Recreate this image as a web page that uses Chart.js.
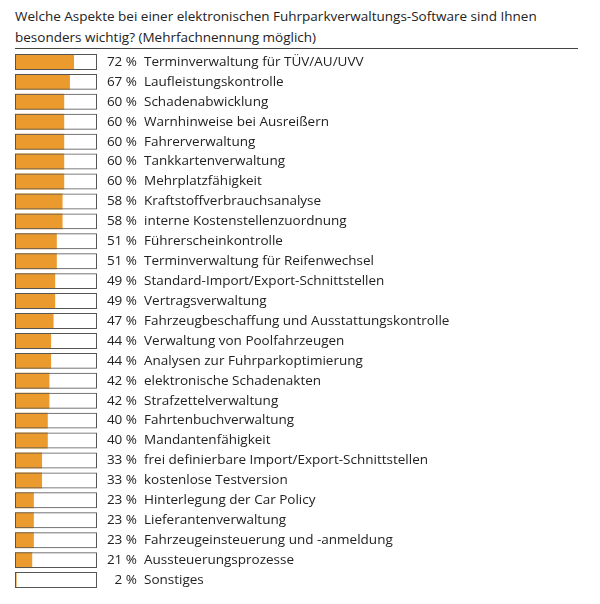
<!DOCTYPE html>
<html>
<head>
<meta charset="utf-8">
<script src="https://cdn.jsdelivr.net/npm/chart.js@4"></script>
<style>
  html, body { margin: 0; padding: 0; background: #fff; }
  #wrap { position: relative; width: 600px; height: 604px; }
  #titel {
    position: absolute; left: 15px; top: 6px; width: 563px;
    font-family: "Open Sans", sans-serif; font-size: 13.5px; line-height: 21px;
    color: #222; border-bottom: 1px solid #444; padding-bottom: 0px;
  }
  canvas { position: absolute; left: 0; top: 0; }
</style>
</head>
<body>
<div id="wrap">
  <div id="titel">Welche Aspekte bei einer elektronischen Fuhrparkverwaltungs-Software sind Ihnen besonders wichtig? (Mehrfachnennung möglich)</div>
  <canvas id="chart" width="600" height="604"></canvas>
</div>
<script>
const aspekte = [
  'Terminverwaltung für TÜV/AU/UVV',
  'Laufleistungskontrolle',
  'Schadenabwicklung',
  'Warnhinweise bei Ausreißern',
  'Fahrerverwaltung',
  'Tankkartenverwaltung',
  'Mehrplatzfähigkeit',
  'Kraftstoffverbrauchsanalyse',
  'interne Kostenstellenzuordnung',
  'Führerscheinkontrolle',
  'Terminverwaltung für Reifenwechsel',
  'Standard-Import/Export-Schnittstellen',
  'Vertragsverwaltung',
  'Fahrzeugbeschaffung und Ausstattungskontrolle',
  'Verwaltung von Poolfahrzeugen',
  'Analysen zur Fuhrparkoptimierung',
  'elektronische Schadenakten',
  'Strafzettelverwaltung',
  'Fahrtenbuchverwaltung',
  'Mandantenfähigkeit',
  'frei definierbare Import/Export-Schnittstellen',
  'kostenlose Testversion',
  'Hinterlegung der Car Policy',
  'Lieferantenverwaltung',
  'Fahrzeugeinsteuerung und -anmeldung',
  'Aussteuerungsprozesse',
  'Sonstiges'
];
const prozent = [72, 67, 60, 60, 60, 60, 60, 58, 58, 51, 51, 49, 49, 47, 44, 44, 42, 42, 40, 40, 33, 33, 23, 23, 23, 21, 2];
const skalaMax = 100;

// schreibt Prozentwert und Bezeichnung neben jeden Balken
const beschriftung = {
  id: 'beschriftung',
  afterDatasetsDraw(chart) {
    const ctx = chart.ctx;
    const meta = chart.getDatasetMeta(0);
    ctx.save();
    ctx.font = '13.5px "Open Sans", sans-serif';
    ctx.fillStyle = '#222';
    ctx.textBaseline = 'middle';
    meta.data.forEach((bar, i) => {
      ctx.textAlign = 'right';
      ctx.fillText(prozent[i] + ' %', 137, bar.y);
      ctx.textAlign = 'left';
      ctx.fillText(aspekte[i], 144, bar.y);
    });
    ctx.restore();
  }
};

new Chart(document.getElementById('chart'), {
  type: 'bar',
  data: {
    labels: aspekte,
    datasets: [
      {
        label: 'Rahmen',
        data: aspekte.map(() => skalaMax),
        backgroundColor: 'rgba(0,0,0,0)',
        borderColor: '#555',
        borderWidth: 1,
        borderSkipped: false,
        grouped: false,
        categoryPercentage: 1,
        barPercentage: 0.8
      },
      {
        label: 'Anteil',
        data: prozent,
        backgroundColor: '#EB9B2E',
        borderWidth: 0,
        grouped: false,
        categoryPercentage: 1,
        barPercentage: 0.8
      }
    ]
  },
  options: {
    indexAxis: 'y',
    responsive: false,
    animation: false,
    layout: { padding: { left: 15, right: 503, top: 52, bottom: 14 } },
    scales: {
      x: { display: false, min: 0, max: skalaMax },
      y: { display: false }
    },
    plugins: {
      legend: { display: false },
      tooltip: { enabled: false }
    }
  },
  plugins: [beschriftung]
});
</script>
</body>
</html>
